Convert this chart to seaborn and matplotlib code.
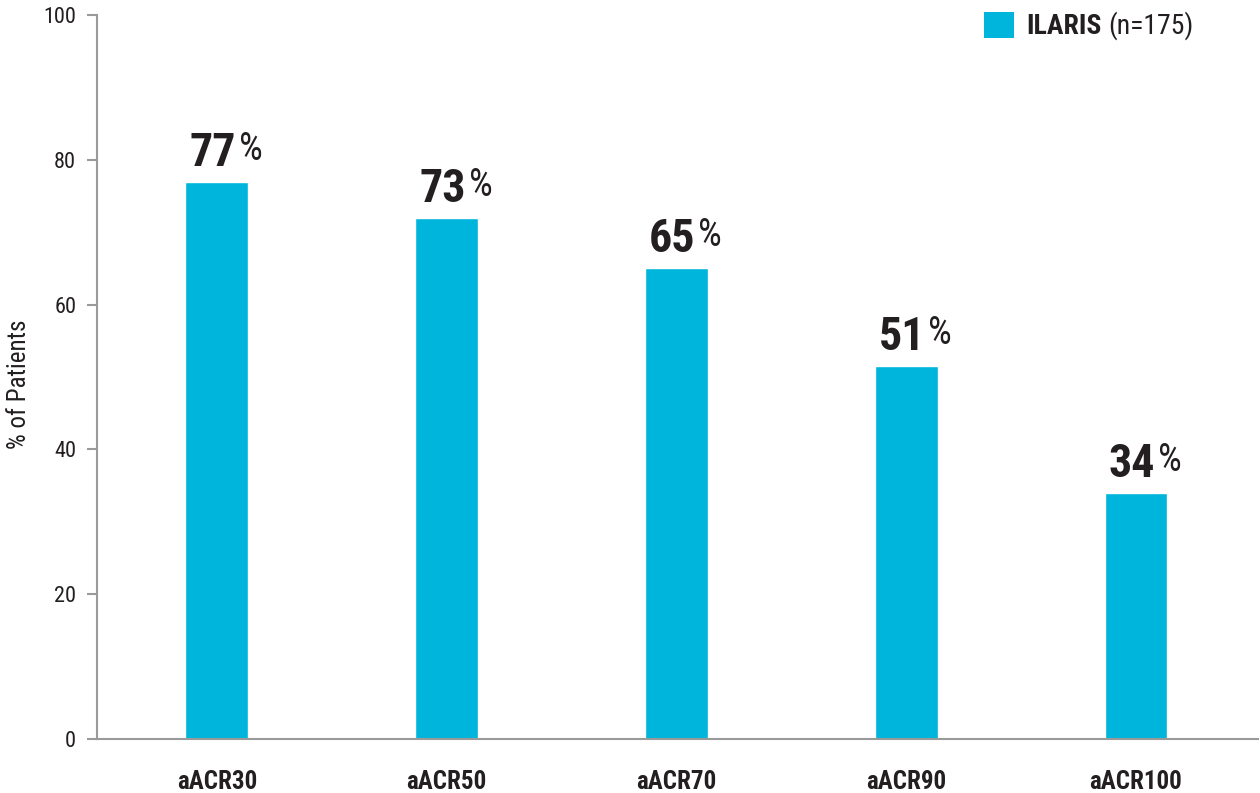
import matplotlib
matplotlib.use("Agg")
import matplotlib.pyplot as plt
from matplotlib import font_manager
from matplotlib.patches import Patch
import seaborn as sns
import pandas as pd

categories = ["aACR30", "aACR50", "aACR70", "aACR90", "aACR100"]
bar_values = [77, 72, 65, 51.5, 34]
label_values = ["77", "73", "65", "51", "34"]
yticks = [0, 20, 40, 60, 80, 100]
series_name = "ILARIS"
series_n = "(n=175)"

available = {f.name for f in font_manager.fontManager.ttflist}
family = "DejaVu Sans"
for cand in ["Roboto Condensed", "Liberation Sans Narrow", "DejaVu Sans Condensed", "Open Sans Condensed", "Roboto"]:
    if cand in available:
        family = cand
        break

sns.set_theme(style="white")
plt.rcParams["font.family"] = [family, "DejaVu Sans"]

BAR = "#00b5dc"
TXT = "#231f20"
GRAY = "#9a9a9a"

df = pd.DataFrame({"cat": categories, "val": bar_values})

fig = plt.figure(figsize=(12.6, 7.93), dpi=100)
ax = fig.add_axes([97 / 1260, 54 / 793, 1161 / 1260, 724 / 793])
sns.barplot(data=df, x="cat", y="val", order=categories, color=BAR,
            width=0.274, saturation=1, ax=ax)

ax.set_xlim(-0.522, 4.531)
ax.set_ylim(0, 100)
ax.set_yticks(yticks)
ax.set_yticklabels([str(t) for t in yticks], fontsize=16, color=TXT)
ax.set_xticks(range(len(categories)))
ax.set_xticklabels(categories, fontsize=18, fontweight="bold", color=TXT)
ax.tick_params(axis="y", left=True, length=7, width=1.5, color=GRAY, direction="out", pad=8)
ax.tick_params(axis="x", bottom=False, length=0, pad=22)
ax.set_xlabel("")
ax.set_ylabel("% of Patients", fontsize=18, color=TXT)
ax.yaxis.set_label_coords(-0.057, 0.49)

for s in ["top", "right"]:
    ax.spines[s].set_visible(False)
for s in ["left", "bottom"]:
    ax.spines[s].set_color(GRAY)
    ax.spines[s].set_linewidth(1.5)

for i, (v, lab) in enumerate(zip(bar_values, label_values)):
    t = ax.annotate(lab, xy=(i, v), xytext=(-3, 5), textcoords="offset points",
                    ha="center", va="bottom", fontsize=33, fontweight="bold", color=TXT)
    ax.annotate("%", xy=(1, 1.0), xycoords=t, xytext=(2, 0), textcoords="offset points",
                ha="left", va="top", fontsize=27, color=TXT)

leg = ax.legend(handles=[Patch(facecolor=BAR, edgecolor="none", label=series_name)],
                loc="upper right", bbox_to_anchor=(0.87, 1.012), frameon=False,
                handlelength=1.05, handleheight=1.05, handletextpad=0.45,
                borderaxespad=0, borderpad=0.2,
                prop={"size": 20, "weight": "bold"})
for txt in leg.get_texts():
    txt.set_color(TXT)
ltxt = leg.get_texts()[0]
ax.annotate(series_n, xy=(1, 0), xycoords=ltxt, xytext=(5, 0), textcoords="offset points",
            ha="left", va="bottom", fontsize=20, color=TXT, zorder=10)

fig.savefig("out.png", dpi=100)
